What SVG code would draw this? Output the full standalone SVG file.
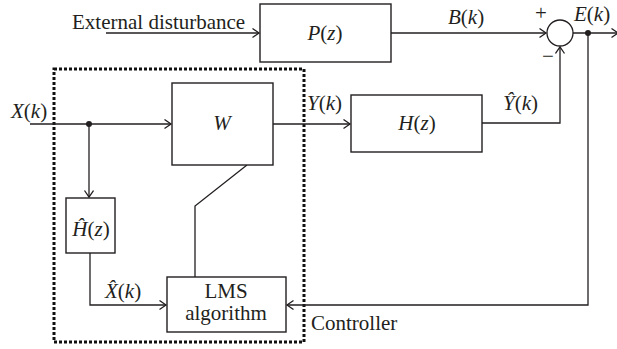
<svg xmlns="http://www.w3.org/2000/svg" width="617" height="349" viewBox="0 0 617 349">
<defs>
<marker id="arr" markerUnits="userSpaceOnUse" markerWidth="10" markerHeight="12" refX="8" refY="5" orient="auto">
<path d="M1.5,0.5 L8,5 L1.5,9.5" fill="none" stroke="#231f20" stroke-width="1.3"/>
</marker>
<style>
.box{fill:#fff;stroke:#231f20;stroke-width:1.4}
.ln{fill:none;stroke:#231f20;stroke-width:1.3}
.t{font-family:"Liberation Serif","DejaVu Serif",serif;font-size:21px;fill:#231f20}
.m{font-family:"Liberation Serif","DejaVu Serif",serif;font-size:21px;fill:#231f20}
.i{font-style:italic}
.dash{fill:none;stroke:#111;stroke-width:3;stroke-dasharray:3 2}
</style>
</defs>
<rect width="617" height="349" fill="#fff"/>

<g id="controller">
<rect class="dash" x="54" y="69" width="250" height="273"/>
<text class="t" x="311" y="330">Controller</text>
</g>

<g id="connectors">
<path class="ln" d="M106,33 H259" marker-end="url(#arr)"/>
<path class="ln" d="M391,33 H546" marker-end="url(#arr)"/>
<path class="ln" d="M573,33 H618" marker-end="url(#arr)"/>
<path class="ln" d="M30,124 H171" marker-end="url(#arr)"/>
<path class="ln" d="M89,124 V197" marker-end="url(#arr)"/>
<path class="ln" d="M90,253 V305 H166" marker-end="url(#arr)"/>
<path class="ln" d="M273,124 H350" marker-end="url(#arr)"/>
<path class="ln" d="M482,123 H560 V47" marker-end="url(#arr)"/>
<path class="ln" d="M247,165 L195,206 V277"/>
<path class="ln" d="M588,33 V305 H287" marker-end="url(#arr)"/>
<circle cx="89" cy="124" r="3" fill="#231f20"/>
<circle cx="588" cy="33" r="3" fill="#231f20"/>
</g>

<g id="ext-label">
<text class="t" x="72" y="29">External disturbance</text>
</g>

<g id="P">
<rect class="box" x="260" y="4" width="131" height="58"/>
<text class="m" x="325" y="40" text-anchor="middle"><tspan class="i">P</tspan>(<tspan class="i">z</tspan>)</text>
</g>
<text class="m" x="448" y="24"><tspan class="i">B</tspan>(<tspan class="i">k</tspan>)</text>

<g id="sum">
<circle cx="560" cy="33" r="13" fill="#fff" stroke="#231f20" stroke-width="1.3"/>
<text class="t" x="541" y="20" text-anchor="middle" font-size="18">+</text>
<text class="t" x="548" y="63" text-anchor="middle" font-size="18">−</text>
</g>
<text class="m" x="574" y="21"><tspan class="i">E</tspan>(<tspan class="i">k</tspan>)</text>

<text class="m" x="11" y="118"><tspan class="i">X</tspan>(<tspan class="i">k</tspan>)</text>

<g id="W">
<rect class="box" x="172" y="83" width="101" height="82"/>
<text class="m i" x="222" y="130" text-anchor="middle">W</text>
</g>
<text class="m" x="307" y="110"><tspan class="i">Y</tspan>(<tspan class="i">k</tspan>)</text>

<g id="H">
<rect class="box" x="351" y="95" width="131" height="57"/>
<text class="m" x="417" y="130" text-anchor="middle"><tspan class="i">H</tspan>(<tspan class="i">z</tspan>)</text>
</g>
<text class="m" x="503" y="110"><tspan class="i">Ŷ</tspan>(<tspan class="i">k</tspan>)</text>

<g id="Hhat">
<rect class="box" x="66" y="198" width="49" height="55"/>
<text class="m" x="91" y="236" text-anchor="middle"><tspan class="i">Ĥ</tspan>(<tspan class="i">z</tspan>)</text>
</g>
<text class="m" x="105" y="298"><tspan class="i">X̂</tspan>(<tspan class="i">k</tspan>)</text>

<g id="LMS">
<rect class="box" x="167" y="277" width="119" height="55"/>
<text class="t" x="226" y="298" text-anchor="middle">LMS</text>
<text class="t" x="226" y="320" text-anchor="middle">algorithm</text>
</g>
</svg>
